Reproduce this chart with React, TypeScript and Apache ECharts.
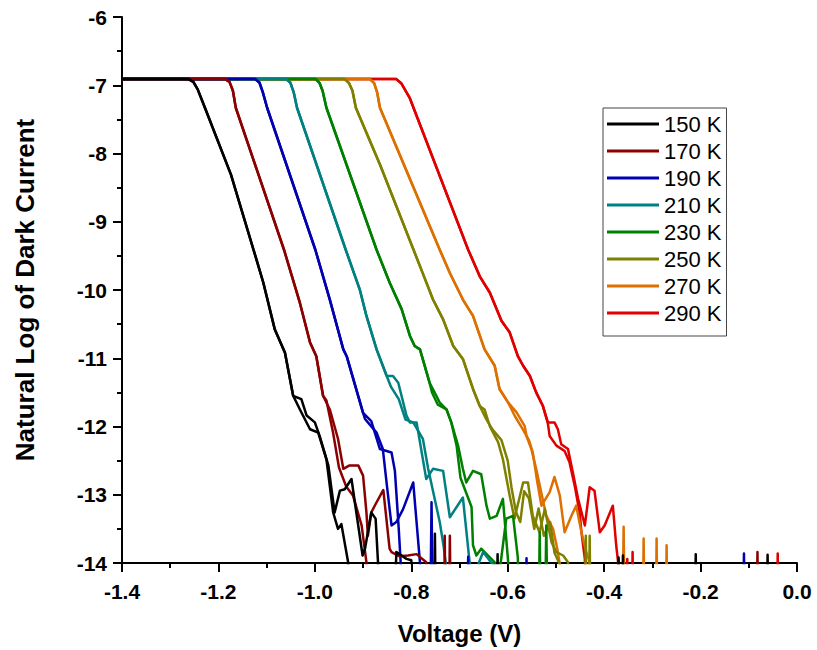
import { useEffect, useRef } from "react";
import * as echarts from "echarts";

// value used for readings below the axis minimum (clipped by the plot area)
const LOW = -15;

const temperatures = ["150 K", "170 K", "190 K", "210 K", "230 K", "250 K", "270 K", "290 K"];
const colors = ["#000000", "#8B0000", "#0000B0", "#008080", "#008000", "#808000", "#DD7000", "#E00000"];

const xTicks = { min: -1.4, max: 0, step: 0.2 };
const yTicks = { min: -14, max: -6, step: 1 };

// ---- 150 K ----
const body150 = [[-1.4, -6.91], [-1.262, -6.91], [-1.252, -6.95], [-1.243, -7.06], [-1.228, -7.33], [-1.174, -8.31], [-1.12, -9.58], [-1.107, -9.89], [-1.083, -10.58], [-1.062, -10.92], [-1.045, -11.55]];
const sweepA150 = [[-1.031, -11.75], [-1.01, -12.04], [-0.993, -12.09], [-0.976, -12.48], [-0.962, -13.26], [-0.952, -13.5], [-0.945, -13.43], [-0.931, -13.99], [-0.928, LOW], [-0.753, LOW], [-0.751, -13.57], [-0.749, LOW], [-0.372, LOW], [-0.37, -13.92], [-0.368, LOW], [-0.212, LOW], [-0.21, -13.87], [-0.208, LOW], [0, LOW]];
const sweepB150 = [[-1.028, -11.6], [-1.017, -11.84], [-1.0, -11.94], [-0.99, -12.14], [-0.972, -12.57], [-0.959, -13.26], [-0.948, -12.94], [-0.938, -12.92], [-0.924, -12.77], [-0.914, -13.26], [-0.901, -13.89], [-0.896, -13.79], [-0.883, -13.26], [-0.874, -13.35], [-0.869, -13.99], [-0.866, LOW], [-0.836, LOW], [-0.831, -13.84], [-0.81, -13.94], [-0.8, -13.96], [-0.796, LOW], [-0.623, LOW], [-0.621, -13.87], [-0.619, LOW], [-0.363, LOW], [-0.361, -13.89], [-0.359, LOW], [-0.063, LOW], [-0.061, -13.88], [-0.059, LOW], [0, LOW]];

// ---- 170 K ----
const body170 = [[-1.4, -6.91], [-1.186, -6.91], [-1.177, -6.95], [-1.17, -7.08], [-1.164, -7.33], [-1.064, -9.41], [-1.031, -10.19], [-1.01, -10.77], [-0.997, -10.97], [-0.983, -11.55]];
const sweepA170 = [[-0.969, -11.75], [-0.952, -12.18], [-0.941, -12.62], [-0.928, -12.57], [-0.91, -12.57], [-0.9, -12.72], [-0.893, -13.26], [-0.89, -13.6], [-0.883, -13.26], [-0.875, -13.15], [-0.858, -12.93], [-0.845, -13.79], [-0.841, -13.84], [-0.825, -13.9], [-0.807, -13.89], [-0.789, -13.87], [-0.769, -13.99], [-0.765, LOW], [-0.732, LOW], [-0.7306, -13.6], [-0.729, LOW], [-0.084, LOW], [-0.082, -13.84], [-0.08, LOW], [0, LOW]];
const sweepB170 = [[-0.976, -11.62], [-0.962, -12.1], [-0.95, -12.6], [-0.935, -12.88], [-0.921, -13.01], [-0.903, -13.45], [-0.893, -13.99], [-0.89, LOW], [-0.722, LOW], [-0.72, -13.6], [-0.718, LOW], [0, LOW]];

// ---- 190 K ----
const body190 = [[-1.4, -6.91], [-1.124, -6.91], [-1.115, -6.96], [-1.108, -7.1], [-1.099, -7.33], [-0.999, -9.41], [-0.969, -10.14], [-0.941, -10.87], [-0.934, -10.97], [-0.9, -11.8]];
const sweepA190 = [[-0.883, -11.92], [-0.865, -12.33], [-0.841, -12.38], [-0.834, -12.65], [-0.826, -13.5], [-0.822, -13.99], [-0.818, LOW], [-0.761, LOW], [-0.758, -13.11], [-0.755, LOW], [-0.563, LOW], [-0.561, -13.93], [-0.559, LOW], [0, LOW]];
const sweepB190 = [[-0.896, -11.89], [-0.872, -12.09], [-0.859, -12.33], [-0.85, -12.9], [-0.841, -13.45], [-0.831, -13.4], [-0.817, -13.21], [-0.796, -12.82], [-0.782, -13.99], [-0.779, LOW], [-0.684, LOW], [-0.682, -13.91], [-0.68, LOW], [-0.112, LOW], [-0.11, -13.86], [-0.108, LOW], [0, LOW]];

// ---- 210 K ----
const body210 = [[-1.4, -6.91], [-1.06, -6.91], [-1.051, -6.96], [-1.044, -7.1], [-1.037, -7.33], [-0.936, -9.41], [-0.907, -9.99], [-0.893, -10.38], [-0.872, -10.87], [-0.851, -11.26]];
const sweepA210 = [[-0.838, -11.26], [-0.827, -11.36], [-0.81, -11.84], [-0.803, -11.94], [-0.789, -11.94], [-0.769, -12.77], [-0.755, -12.62], [-0.734, -12.65], [-0.72, -13.33], [-0.693, -13.04], [-0.679, -13.99], [-0.676, LOW], [0, LOW]];
const sweepB210 = [[-0.842, -11.42], [-0.826, -11.6], [-0.812, -11.9], [-0.796, -11.94], [-0.776, -12.18], [-0.765, -12.62], [-0.741, -13.4], [-0.733, -13.75], [-0.727, -14.1], [-0.72, LOW], [-0.664, LOW], [-0.66, -14.0], [-0.651, -13.84], [-0.639, -13.95], [-0.627, -14.05], [-0.62, LOW], [0, LOW]];

// ---- 230 K ----
const body230 = [[-1.4, -6.91], [-0.998, -6.91], [-0.99, -6.97], [-0.984, -7.08], [-0.976, -7.33], [-0.872, -9.41], [-0.845, -9.89], [-0.82, -10.28], [-0.803, -10.67], [-0.793, -10.82], [-0.782, -10.87], [-0.762, -11.36]];
const sweepA230 = [[-0.748, -11.55], [-0.741, -11.65], [-0.727, -11.75], [-0.717, -11.94], [-0.703, -12.28], [-0.693, -12.62], [-0.686, -12.82], [-0.672, -12.65], [-0.655, -12.7], [-0.644, -13.16], [-0.637, -13.35], [-0.623, -13.31], [-0.61, -13.06], [-0.599, -13.99], [-0.596, LOW], [-0.536, LOW], [-0.5337, -13.55], [-0.531, LOW], [0, LOW]];
const sweepB230 = [[-0.757, -11.5], [-0.745, -11.68], [-0.727, -11.75], [-0.717, -11.94], [-0.706, -12.28], [-0.698, -12.75], [-0.675, -13.18], [-0.672, -13.74], [-0.665, -13.89], [-0.655, -13.79], [-0.627, -13.99], [-0.62, -14.3], [-0.603, -13.35], [-0.589, -13.31], [-0.579, -13.92], [-0.576, LOW], [-0.523, LOW], [-0.52, -13.45], [-0.517, LOW], [0, LOW]];

// ---- 250 K ----
const body250 = [[-1.4, -6.91], [-0.938, -6.91], [-0.929, -6.97], [-0.922, -7.08], [-0.915, -7.33], [-0.865, -8.16], [-0.782, -9.65], [-0.755, -10.14], [-0.734, -10.43], [-0.713, -10.82], [-0.693, -11.01], [-0.672, -11.45], [-0.658, -11.7]];
const sweepA250 = [[-0.648, -11.75], [-0.637, -12.0], [-0.62, -12.23], [-0.61, -12.48], [-0.596, -13.01], [-0.586, -13.35], [-0.568, -12.82], [-0.558, -12.82], [-0.548, -13.31], [-0.534, -13.55], [-0.523, -13.21], [-0.509, -13.7], [-0.499, -13.84], [-0.485, -13.89], [-0.475, -13.99], [-0.472, LOW], [-0.44, LOW], [-0.438, -13.6], [-0.436, LOW], [0, LOW]];
const sweepB250 = [[-0.644, -11.9], [-0.631, -12.05], [-0.613, -12.2], [-0.6, -12.5], [-0.592, -12.9], [-0.583, -13.25], [-0.574, -13.4], [-0.566, -12.95], [-0.556, -13.05], [-0.545, -13.5], [-0.536, -13.2], [-0.525, -13.6], [-0.512, -13.4], [-0.503, -13.85], [-0.49, -14.05], [-0.485, LOW], [-0.432, LOW], [-0.43, -13.6], [-0.428, LOW], [0, LOW]];

// ---- 270 K ----
const body270 = [[-1.4, -6.91], [-0.886, -6.91], [-0.877, -6.97], [-0.871, -7.1], [-0.865, -7.33], [-0.741, -9.41], [-0.72, -9.75], [-0.693, -10.14], [-0.672, -10.38], [-0.648, -10.87], [-0.627, -11.11], [-0.617, -11.45], [-0.599, -11.65]];
const sweepA270 = [[-0.582, -11.79], [-0.565, -11.99], [-0.561, -12.14], [-0.551, -12.33], [-0.541, -12.62], [-0.52, -13.31], [-0.506, -13.5], [-0.497, -13.8], [-0.49, -14.1], [-0.486, LOW], [-0.362, LOW], [-0.3596, -13.47], [-0.357, LOW], [-0.293, LOW], [-0.2912, -13.64], [-0.289, LOW], [0, LOW]];
const sweepB270 = [[-0.585, -11.85], [-0.568, -12.05], [-0.556, -12.2], [-0.548, -12.38], [-0.539, -12.8], [-0.53, -13.16], [-0.513, -12.96], [-0.503, -12.74], [-0.492, -13.01], [-0.482, -13.55], [-0.468, -13.31], [-0.458, -13.16], [-0.447, -13.55], [-0.437, -13.84], [-0.43, -13.98], [-0.427, LOW], [-0.32, LOW], [-0.3181, -13.64], [-0.316, LOW], [-0.272, LOW], [-0.2705, -13.74], [-0.268, LOW], [0, LOW]];

// ---- 290 K ----
const body290 = [[-1.4, -6.91], [-0.831, -6.91], [-0.821, -6.97], [-0.803, -7.19], [-0.682, -9.41], [-0.658, -9.8], [-0.637, -10.04], [-0.613, -10.45], [-0.596, -10.62], [-0.579, -10.97], [-0.568, -11.11], [-0.554, -11.26], [-0.541, -11.5], [-0.527, -11.7], [-0.517, -11.94]];
const sweepA290 = [[-0.503, -11.94], [-0.496, -12.04], [-0.489, -12.26], [-0.475, -12.33], [-0.465, -12.67], [-0.454, -13.06], [-0.44, -13.45], [-0.43, -12.89], [-0.42, -12.94], [-0.409, -13.55], [-0.399, -13.45], [-0.382, -13.16], [-0.375, -13.74], [-0.371, -13.99], [-0.368, LOW], [-0.343, LOW], [-0.341, -13.84], [-0.339, LOW], [0, LOW]];
const sweepB290 = [[-0.513, -12.14], [-0.499, -12.28], [-0.482, -12.36], [-0.472, -12.52], [-0.461, -12.87], [-0.451, -13.26], [-0.447, -13.55], [-0.44, -13.94], [-0.437, LOW], [-0.354, LOW], [-0.352, -13.94], [-0.35, LOW], [-0.042, LOW], [-0.04, -13.86], [-0.038, LOW], [0, LOW]];

const bodies = [body150, body170, body190, body210, body230, body250, body270, body290];
const sweepsA = [sweepA150, sweepA170, sweepA190, sweepA210, sweepA230, sweepA250, sweepA270, sweepA290];
const sweepsB = [sweepB150, sweepB170, sweepB190, sweepB210, sweepB230, sweepB250, sweepB270, sweepB290];

const FONT = "'Liberation Sans', Arial, Helvetica, sans-serif";

function buildOption() {
  const series: any[] = [];
  // draw the hottest first so the coldest sits on top (as in the reference)
  for (let i = temperatures.length - 1; i >= 0; i--) {
    for (const sweep of [sweepsA[i], sweepsB[i]]) {
      series.push({
        type: "line",
        name: temperatures[i],
        data: [...bodies[i], ...sweep],
        showSymbol: false,
        symbol: "none",
        clip: true,
        lineStyle: { width: 2.5, color: colors[i], join: "round" },
        itemStyle: { color: colors[i] },
        emphasis: { disabled: true },
      });
    }
  }
  const axisCommon = {
    axisLine: { onZero: false, lineStyle: { color: "#000", width: 2 } },
    axisTick: { inside: false, length: 9, lineStyle: { color: "#000", width: 2 } },
    minorTick: { show: true, splitNumber: 2, length: 5, lineStyle: { color: "#000", width: 2 } },
    splitLine: { show: false },
    minorSplitLine: { show: false },
  };
  return {
    animation: false,
    backgroundColor: "#ffffff",
    textStyle: { fontFamily: FONT },
    grid: { left: 122, right: 20, top: 17, bottom: 86, containLabel: false },
    legend: {
      orient: "vertical",
      left: 603,
      top: 108,
      icon: "rect",
      itemWidth: 52,
      itemHeight: 3,
      itemGap: 5,
      padding: [5, 5, 12, 4],
      borderColor: "#444",
      borderWidth: 1,
      selectedMode: false,
      data: temperatures,
      textStyle: { fontSize: 22, lineHeight: 22, color: "#000", fontFamily: FONT },
    },
    xAxis: {
      type: "value",
      min: xTicks.min,
      max: xTicks.max,
      interval: xTicks.step,
      name: "Voltage (V)",
      nameLocation: "middle",
      nameGap: 58,
      nameTextStyle: { fontSize: 24, fontWeight: "bold", color: "#000", fontFamily: FONT },
      axisLabel: {
        fontSize: 21,
        fontWeight: "bold",
        color: "#000",
        margin: 18,
        fontFamily: FONT,
        formatter: (v: number) => v.toFixed(1),
      },
      ...axisCommon,
    },
    yAxis: {
      type: "value",
      min: yTicks.min,
      max: yTicks.max,
      interval: yTicks.step,
      name: "Natural Log of Dark Current",
      nameLocation: "middle",
      nameGap: 84,
      nameTextStyle: { fontSize: 26, fontWeight: "bold", color: "#000", fontFamily: FONT },
      axisLabel: {
        fontSize: 21,
        fontWeight: "bold",
        color: "#000",
        margin: 15,
        fontFamily: FONT,
        formatter: (v: number) => String(v),
      },
      ...axisCommon,
    },
    series,
  };
}

export default function App() {
  const ref = useRef<HTMLDivElement>(null);
  useEffect(() => {
    if (!ref.current) return;
    const chart = echarts.init(ref.current, undefined, { renderer: "svg" });
    chart.setOption(buildOption() as any);
    return () => chart.dispose();
  }, []);
  return (
    <div
      ref={ref}
      style={{ position: "fixed", left: 0, top: 0, width: 817, height: 650, background: "#fff" }}
    />
  );
}
